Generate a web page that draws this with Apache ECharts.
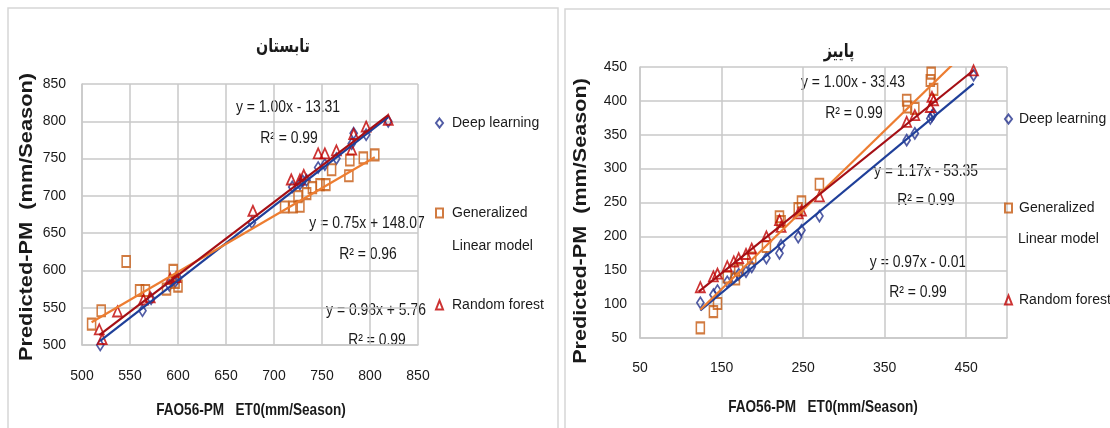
<!DOCTYPE html>
<html><head><meta charset="utf-8">
<script src="https://cdn.jsdelivr.net/npm/echarts@6/dist/echarts.min.js"></script>
<style>html,body{margin:0;padding:0;background:#fff}#c{width:1110px;height:428px}</style>
</head><body><div id="c"></div>
<script>
// ---------- data ----------
const seriesNames = ['Deep learning', 'Generalized Linear model', 'Random forest'];
const chartTitles = ['تابستان', 'پاییز'];
const xAxisTitle = 'FAO56-PM   ET0(mm/Season)';
const yAxisTitle = 'Predicted-PM  (mm/Season)';

// Summer panel (تابستان)
const summerDL = [[519,500],[563,546],[572,562],[591,580],[597,585],[600,590],[677,664],[719,712],[727,716],[730,720],[734,721],[746,738],[753,742],[765,750],[781,770],[783,784],[796,782],[819,800]];
const summerGLM = [[510,528],[520,546],[546,612],[560,573],[566,573],[588,575],[595,600],[597,584],[600,579],[711,685],[720,685],[727,686],[725,699],[734,703],[740,711],[748,715],[754,715],[760,735],[778,727],[779,748],[793,751],[805,755]];
const summerRF = [[518,521],[521,508],[537,545],[564,561],[571,564],[592,589],[598,591],[678,680],[718,722],[727,722],[731,728],[746,757],[753,757],[765,761],[781,762],[783,783],[796,793],[819,802]];
const summerFitSlope = [1.00, 0.75, 0.98];
const summerFitIntercept = [-13.31, 148.07, 5.76];
const summerFitFrom = [519, 510, 518];
const summerFitTo = [819, 805, 819];
const summerEq = ['y = 1.00x - 13.31', 'y = 0.75x + 148.07', 'y = 0.98x + 5.76'];
const summerR2 = ['R² = 0.99', 'R² = 0.96', 'R² = 0.99'];
const summerXTicks = {min: 500, max: 850, step: 50};
const summerYTicks = {min: 500, max: 850, step: 50};

// Autumn panel (پاییز)
const autumnDL = [[124,102],[140,114],[145,120],[157,133],[165,139],[171,144],[180,148],[187,155],[205,168],[221,175],[223,187],[244,199],[248,209],[270,230],[377,342],[387,352],[406,374],[408,378],[410,381],[459,438]];
const autumnGLM = [[124,65],[140,89],[145,101],[157,140],[167,137],[171,150],[187,168],[205,185],[221,229],[223,222],[244,241],[248,251],[270,277],[377,401],[378,391],[387,389],[406,430],[407,441],[410,417]];
const autumnRF = [[124,125],[140,141],[145,145],[157,156],[165,163],[171,168],[180,174],[187,182],[205,200],[221,224],[223,214],[244,234],[248,238],[270,259],[377,369],[387,379],[406,391],[408,406],[410,401],[459,445]];
const autumnFitSlope = [1.00, 1.17, 0.97];
const autumnFitIntercept = [-33.43, -53.35, -0.01];
const autumnFitFrom = [124, 124, 122];
const autumnFitTo = [459, 459, 459];
const autumnEq = ['y = 1.00x - 33.43', 'y = 1.17x - 53.35', 'y = 0.97x - 0.01'];
const autumnR2 = ['R² = 0.99', 'R² = 0.99', 'R² = 0.99'];
const autumnXTicks = {min: 50, max: 500, step: 100};
const autumnYTicks = {min: 50, max: 450, step: 50};

// ---------- styles ----------
const markerColors = ['#25338f', '#c55a11', '#c00000'];
const lineColors = ['#1f3f99', '#ed7d31', '#a50f15'];
const symbols = ['diamond', 'rect', 'triangle'];
const symbolSizes = [[7, 11], [8, 11], [9, 10]];
const sans = "'Liberation Sans', Arial, sans-serif";
const gridColor = '#c8c8c8';
const textColor = '#1a1a1a';

const chart = echarts.init(document.getElementById('c'));

function axis(gridIndex, t, hideMax, margin) {
  return {
    type: 'value', gridIndex, min: t.min, max: t.max, interval: t.step,
    axisLine: {show: true, lineStyle: {color: gridColor, width: 1.5}},
    axisTick: {show: false},
    splitLine: {show: true, lineStyle: {color: gridColor, width: 1.5}},
    axisLabel: {
      margin, color: textColor, fontFamily: sans, fontSize: 14,
      formatter: v => (hideMax && v === t.max) ? '' : String(v)
    }
  };
}

const panels = [
  {data: [summerDL, summerGLM, summerRF], slope: summerFitSlope, icpt: summerFitIntercept, from: summerFitFrom, to: summerFitTo},
  {data: [autumnDL, autumnGLM, autumnRF], slope: autumnFitSlope, icpt: autumnFitIntercept, from: autumnFitFrom, to: autumnFitTo}
];

const series = [];
panels.forEach((p, pi) => {
  p.data.forEach((d, si) => {
    series.push({
      name: seriesNames[si], type: 'scatter', xAxisIndex: pi, yAxisIndex: pi,
      data: d, symbol: symbols[si], symbolSize: symbolSizes[si], z: 2,
      itemStyle: {color: 'rgba(255,255,255,0)', borderColor: markerColors[si], borderWidth: 1.8}
    });
  });
  p.data.forEach((d, si) => {
    const f = x => p.slope[si] * x + p.icpt[si];
    series.push({
      name: seriesNames[si] + ' trend', type: 'line', xAxisIndex: pi, yAxisIndex: pi,
      data: [[p.from[si], f(p.from[si])], [p.to[si], f(p.to[si])]],
      symbol: 'none', z: 3, clip: true, silent: true,
      lineStyle: {color: lineColors[si], width: 2.2}
    });
  });
});

function legendItem(name, left, top, pad) {
  return {
    data: [name], left, top, orient: 'vertical', padding: 0,
    itemWidth: 7, itemHeight: 9, selectedMode: false,
    formatter: n => n === 'Generalized Linear model' ? 'Generalized' : n,
    textStyle: {fontFamily: sans, fontSize: 14, color: textColor, lineHeight: 20, padding: [0, 0, 0, pad]}
  };
}

function txt(text, x, y, extra, props) {
  return Object.assign({
    type: 'text', x, y,
    style: Object.assign({text, fill: textColor, fontFamily: sans, fontSize: 16, align: 'center', verticalAlign: 'middle'}, extra || {})
  }, props || {});
}

const eqScale = {scaleX: 0.87};
const arabic = {fontFamily: "'DejaVu Sans', sans-serif", fontWeight: 'bold', fontSize: 19};

const graphics = [
  {type: 'rect', shape: {x: 8, y: 8, width: 550, height: 440}, style: {fill: 'none', stroke: '#d6d6d6', lineWidth: 1.5}, z: -10},
  {type: 'rect', shape: {x: 565, y: 9, width: 560, height: 440}, style: {fill: 'none', stroke: '#d6d6d6', lineWidth: 1.5}, z: -10},
  txt(chartTitles[0], 283, 47, arabic, {scaleX: 0.75}),
  txt(chartTitles[1], 839, 52, arabic, {scaleX: 0.75}),
  txt(yAxisTitle, 27, 217, {fontWeight: 'bold', fontSize: 18}, {rotation: Math.PI / 2, scaleX: 1.21}),
  txt(yAxisTitle, 581, 221, {fontWeight: 'bold', fontSize: 18}, {rotation: Math.PI / 2, scaleX: 1.2}),
  txt(xAxisTitle, 251, 410, {fontWeight: 'bold', fontSize: 17}, {scaleX: 0.8}),
  txt(xAxisTitle, 823, 407, {fontWeight: 'bold', fontSize: 17}, {scaleX: 0.8}),
  txt('Linear model', 452, 246, {align: 'left', fontSize: 14}),
  txt('Linear model', 1018, 239, {align: 'left', fontSize: 14}),
  // summer equations
  txt(summerEq[0], 288, 108, null, eqScale), txt(summerR2[0], 289, 139, null, eqScale),
  txt(summerEq[1], 367, 224, null, eqScale), txt(summerR2[1], 368, 255, null, eqScale),
  txt(summerEq[2], 376, 311, null, eqScale), txt(summerR2[2], 377, 341, null, eqScale),
  // autumn equations
  txt(autumnEq[0], 853, 83, null, eqScale), txt(autumnR2[0], 854, 114, null, eqScale),
  txt(autumnEq[1], 926, 172, null, eqScale), txt(autumnR2[1], 926, 201, null, eqScale),
  txt(autumnEq[2], 918, 263, null, eqScale), txt(autumnR2[2], 918, 293, null, eqScale)
];

chart.setOption({
  animation: false,
  backgroundColor: '#fff',
  grid: [
    {left: 82, top: 84, width: 336, height: 261},
    {left: 640, top: 67, width: 367, height: 271}
  ],
  xAxis: [axis(0, summerXTicks, false, 24), axis(1, autumnXTicks, true, 23)],
  yAxis: [axis(0, summerYTicks, false, 16), axis(1, autumnYTicks, false, 13)],
  legend: [
    legendItem(seriesNames[0], 435, 113, 4),
    legendItem(seriesNames[1], 435, 203, 4),
    legendItem(seriesNames[2], 435, 295, 4),
    legendItem(seriesNames[0], 1004, 109, 2),
    legendItem(seriesNames[1], 1004, 198, 2),
    legendItem(seriesNames[2], 1004, 290, 2)
  ],
  graphic: graphics,
  series
});
</script></body></html>
